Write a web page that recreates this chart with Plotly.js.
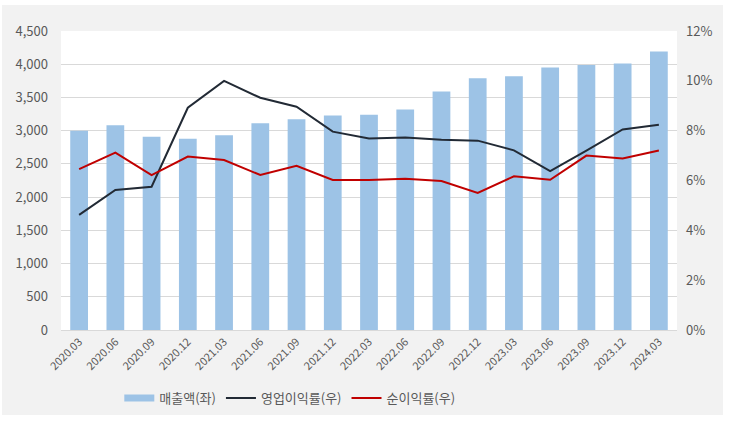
<!DOCTYPE html>
<html><head><meta charset="utf-8">
<script src="https://cdn.plot.ly/plotly-3.0.1.min.js"></script>
<style>html,body{margin:0;padding:0;background:#fff}#chart{width:730px;height:422px}</style>
</head><body><div id="chart"></div>
<script>
const categories = ["2020.03","2020.06","2020.09","2020.12","2021.03","2021.06","2021.09","2021.12","2022.03","2022.06","2022.09","2022.12","2023.03","2023.06","2023.09","2023.12","2024.03"];
const sales = [3000,3080,2910,2880,2930,3110,3170,3230,3240,3320,3590,3790,3820,3950,3990,4010,4190];
const opMargin = [0.0462,0.0562,0.0575,0.0892,0.1000,0.0932,0.0896,0.0796,0.0769,0.0773,0.0764,0.0760,0.0721,0.0638,0.0720,0.0805,0.0824];
const netMargin = [0.0646,0.0712,0.0622,0.0696,0.0682,0.0622,0.0659,0.0602,0.0602,0.0607,0.0598,0.0550,0.0617,0.0603,0.0700,0.0688,0.0720];
const names = ["매출액(좌)","영업이익률(우)","순이익률(우)"];

const font = "'Noto Sans CJK KR', 'Noto Sans', sans-serif";
const traces = [
  {type:'bar', x:categories, y:sales, name:names[0], marker:{color:'#9dc3e6'}, yaxis:'y', showlegend:false},
  {type:'scatter', mode:'lines', x:[null], y:[null], name:names[0], line:{color:'#9dc3e6', width:7}, yaxis:'y', showlegend:true, hoverinfo:'skip'},
  {type:'scatter', mode:'lines', x:categories, y:opMargin, name:names[1], line:{color:'#222a35', width:2}, yaxis:'y2'},
  {type:'scatter', mode:'lines', x:categories, y:netMargin, name:names[2], line:{color:'#c00000', width:2}, yaxis:'y2'}
];
const layout = {
  width:730, height:422,
  margin:{l:61, r:53, t:31, b:92},
  paper_bgcolor:'#ffffff', plot_bgcolor:'#ffffff',
  font:{family:font, color:'#595959', size:12},
  bargap:0.51,
  showlegend:true,
  legend:{orientation:'h', xref:'container', yref:'container', x:0.397, xanchor:'center', y:0.057, yanchor:'middle', font:{size:13, color:'#595959'}, itemwidth:30, traceorder:'normal', bgcolor:'rgba(0,0,0,0)'},
  xaxis:{type:'category', tickangle:-45, tickfont:{size:11, color:'#595959'}, showline:true, linecolor:'#d9d9d9', linewidth:1, showgrid:false, ticks:'', fixedrange:true, automargin:false},
  yaxis:{range:[0,4500], dtick:500, tickformat:',d', gridcolor:'#d9d9d9', gridwidth:1, zeroline:false, showline:false, tickfont:{size:13, color:'#595959'}, ticklabelstandoff:12, automargin:false},
  yaxis2:{overlaying:'y', side:'right', range:[0,0.12], dtick:0.02, tickformat:'.0%', showgrid:false, zeroline:false, showline:false, tickfont:{size:13, color:'#595959'}, ticklabelstandoff:8, automargin:false},
  shapes:[
    {type:'rect', xref:'paper', yref:'paper', x0:-59/616, x1:(723-61)/616, y0:-(415-330)/299, y1:1+(31-5)/299, fillcolor:'#f2f2f2', line:{width:0}, layer:'below'},
    {type:'rect', xref:'paper', yref:'paper', x0:0, x1:1, y0:0, y1:1, fillcolor:'#ffffff', line:{width:0}, layer:'below'}
  ]
};
Plotly.newPlot('chart', traces, layout, {displayModeBar:false, staticPlot:true});
</script></body></html>
